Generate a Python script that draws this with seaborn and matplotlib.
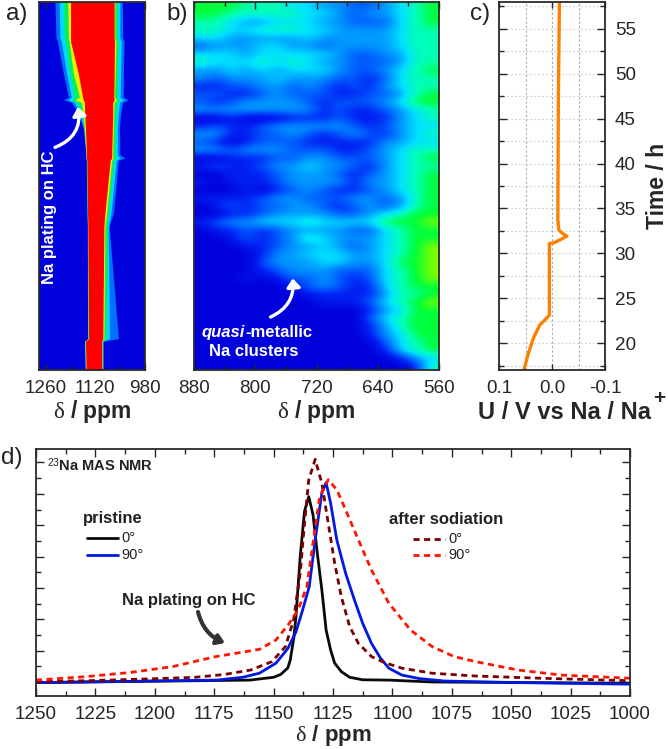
import numpy as np
import matplotlib
matplotlib.use("Agg")
import matplotlib.pyplot as plt
from matplotlib.colors import LinearSegmentedColormap
from matplotlib.ticker import MultipleLocator, FixedLocator
import seaborn as sns

sns.set_style("ticks")
plt.rcParams['font.family'] = ['Liberation Sans', 'DejaVu Sans']
plt.rcParams['mathtext.fontset'] = 'custom'
plt.rcParams['mathtext.rm'] = 'Liberation Sans'
plt.rcParams['mathtext.bf'] = 'Liberation Sans:bold'
plt.rcParams['mathtext.it'] = 'Liberation Serif'

W, H = 668, 749

# panel a: band edges (ppm) against time (h)
a_time = [58, 54, 53.6, 50, 47.4, 47.1, 46.8, 45.5, 44, 41, 40.6, 40.4, 34.5, 33, 20.5, 20.2, 17]
a_outer_l = [1234, 1231, 1227, 1210, 1196, 1210, 1187, 1168, 1154, 1147, 1146, 1146, 1144, 1143, 1142, 1151, 1149]
a_cyan_l = [1222, 1220, 1216, 1201, 1188, 1198, 1179, 1163, 1153, 1146, 1146, 1145, 1143, 1142, 1141, 1150, 1148]
a_green_l = [1210, 1208, 1205, 1192, 1180, 1187, 1171, 1159, 1152, 1146, 1146, 1145, 1143, 1142, 1141, 1150, 1148]
a_yellow_l = [1198, 1196, 1194, 1182, 1165, 1178, 1159, 1154, 1151, 1146, 1146, 1144, 1142, 1141, 1140, 1149, 1147]
a_red_l = [1190, 1190, 1190, 1168, 1156, 1154, 1151, 1150, 1148, 1145, 1145, 1144, 1142, 1141, 1139, 1148, 1146]
a_red_r = [1067, 1067, 1066, 1067, 1068, 1067, 1071, 1071, 1072, 1074, 1074, 1078, 1093, 1096, 1099, 1102, 1102]
a_yellow_r = [1065, 1065, 1062, 1064, 1066, 1060, 1067, 1068, 1069, 1071, 1070, 1074, 1088, 1093, 1096, 1101, 1101]
a_green_r = [1058, 1058, 1055, 1057, 1059, 1054, 1060, 1061, 1063, 1065, 1063, 1067, 1083, 1086, 1090, 1100, 1100]
a_cyan_r = [1051, 1051, 1047, 1049, 1050, 1040, 1052, 1055, 1058, 1058, 1050, 1061, 1076, 1084, 1080, 1099, 1099]
a_outer_r = [1044, 1043, 1039, 1041, 1041, 1027, 1043, 1049, 1052, 1051, 1036, 1055, 1069, 1081, 1055, 1098, 1098]

# panel b: intensity levels (0-9), rows from 58 h down to 17 h, columns from 880 to 560 ppm
b_rows = [
    "6665554433223456", "6655555443233456", "5543344433222456", "5544555443333455",
    "4433333433333455", "2333443323333455", "4443444443223355", "5444545433222355",
    "3343434443223456", "3233343332212455", "1122332321213455", "2211232221122356",
    "2123333212223466", "3333333312112345", "0010001112111345", "1211233333212344",
    "3311223212321345", "2101222111113344", "3323332221123455", "0011122332223456",
    "1211233433213455", "0011123332123456", "1011123333133456", "0001012321123456",
    "1111233222332356", "0121223321232356", "0011233332234566", "1233444544446667",
    "0112123333224566", "0012123543334566", "0001123343234567", "0000133444334567",
    "0000233344334667", "0000123332224567", "0001012232124567", "0000001232114566",
    "0000000111113556", "0000000011124567", "0000000000013466", "0000000000024566",
    "0000000000013566", "0000000000013466", "0000000000002456", "0000000000001456",
    "0000000000000134", "0000000000000015",
]
b_matrix = [[int(c) for c in r] for r in b_rows]

# panel c: cell voltage against time
c_time = [17, 18.8, 20.7, 22, 23.1, 31.1, 31.15, 31.5, 31.9, 32.3, 32.6, 33.7, 47, 57.9]
c_volt = [0.053, 0.045, 0.034, 0.023, 0.005, 0.005, -0.003, -0.015, -0.028, -0.018, -0.013, -0.011, -0.012, -0.014]

# panel d: spectra
d_black_x = [1250, 1160, 1150, 1147, 1144, 1143, 1141.5, 1140.6, 1138.8, 1137, 1135.2, 1133.4, 1131.6, 1129.7, 1127.9, 1126, 1124.3, 1121.5, 1118, 1112.5, 1101.5, 1083.3, 1000]
d_black_y = [-0.02, 0.06, 0.15, 0.24, 0.45, 0.7, 1.4, 2.09, 4.0, 5.44, 5.91, 5.33, 4.1, 2.94, 1.66, 1.02, 0.6, 0.33, 0.15, 0.07, 0.06, 0.0, -0.04]
d_blue_x = [1250, 1174, 1163, 1156, 1149, 1144, 1140.6, 1138, 1135, 1132.5, 1129.7, 1127.9, 1126, 1123.4, 1119.7, 1116, 1112.5, 1108.8, 1105, 1101.5, 1096, 1088.8, 1078, 1047, 1000]
d_blue_y = [-0.02, 0.06, 0.15, 0.28, 0.6, 1.07, 1.6, 2.24, 3.04, 4.53, 6.02, 6.36, 5.7, 4.53, 3.47, 2.62, 1.87, 1.23, 0.76, 0.44, 0.22, 0.11, 0.03, -0.02, -0.07]
d_dark_x = [1250, 1229, 1201.6, 1183, 1170.7, 1159.7, 1150.7, 1145, 1141.6, 1138.8, 1137, 1135.2, 1132.5, 1129.7, 1127, 1124.3, 1121.5, 1118, 1114.3, 1108.8, 1103.4, 1096, 1083.3, 1065, 1037.8, 1000]
d_dark_y = [0.01, 0.04, 0.1, 0.15, 0.24, 0.38, 0.65, 1.13, 1.98, 3.47, 5.06, 6.45, 7.1, 6.34, 5.06, 3.79, 2.72, 1.77, 1.23, 0.81, 0.62, 0.44, 0.28, 0.19, 0.12, 0.04]
d_red_x = [1250, 1229, 1210.7, 1192.5, 1174.3, 1156, 1149, 1143.4, 1139.7, 1136, 1133.4, 1130.6, 1127, 1123.4, 1119.7, 1114.3, 1108.8, 1101.5, 1092.4, 1083.3, 1074, 1065, 1047, 1028.8, 1000]
d_red_y = [0.06, 0.17, 0.3, 0.49, 0.81, 1.04, 1.34, 1.87, 2.3, 3.04, 4.43, 5.91, 6.45, 6.13, 5.49, 4.53, 3.57, 2.51, 1.66, 1.13, 0.81, 0.65, 0.38, 0.22, 0.12]

BLUE = "#0000dc"
jet = LinearSegmentedColormap.from_list("nmr", [
    (0, 0, 0.86), (0, 0.12, 0.95), (0, 0.36, 1), (0, 0.6, 1), (0, 0.88, 1),
    (0, 1, 0.72), (0, 1, 0.22), (0.5, 1, 0), (1, 1, 0), (1, 0, 0)])


def px_axes(fig, l, t, r, b):
    return fig.add_axes([l / W, 1 - b / H, (r - l) / W, (b - t) / H])


def frame(ax, lw=1.3):
    for s in ax.spines.values():
        s.set_linewidth(lw)
        s.set_color("#2a2a2a")


def ptext(fig, x, y, s, **kw):
    fig.text(x / W, 1 - y / H, s, **kw)


fig = plt.figure(figsize=(W / 100, H / 100), dpi=100, facecolor="white")
TICK = 13.6
LAB = 16.5
DELTA = "$\\delta$ / ppm"

# ---------- a
ax = px_axes(fig, 39, 2, 145, 370)
ax.set_facecolor(BLUE)
layers = [(a_outer_l, a_outer_r, "#0070ff"), (a_cyan_l, a_cyan_r, "#00d8ff"), (a_green_l, a_green_r, "#00f060"),
          (a_yellow_l, a_yellow_r, "#e8f000"), (a_red_l, a_red_r, "#ff0000")]
for lo, hi, col in layers:
    ax.fill_betweenx(a_time, lo, hi, color=col, lw=0)
ax.set_xlim(1279, 980)
ax.set_ylim(17, 58)
ax.set_yticks([])
ax.xaxis.set_major_locator(FixedLocator([1260, 1120, 980]))
ax.xaxis.set_minor_locator(FixedLocator([1190, 1050]))
ax.tick_params(axis='x', which='major', direction='in', top=True, length=5, width=1, labelsize=TICK, pad=7)
ax.tick_params(axis='x', which='minor', direction='in', top=True, length=3, width=1)
ax.set_xlabel(DELTA, fontsize=LAB, fontweight='bold', labelpad=1)
frame(ax)
ax.text(1248, 34, "Na plating on HC", color="white", fontsize=12, fontweight='bold',
        rotation=90, ha='center', va='center')
ax.annotate("", xy=(1169, 46.3), xytext=(1234, 41.8),
            arrowprops=dict(arrowstyle="-|>,head_width=0.4,head_length=0.5", color="white", lw=2.4,
                            connectionstyle="arc3,rad=0.4", shrinkA=0, shrinkB=0))

# ---------- b
ax = px_axes(fig, 194, 2, 439, 370)
ax.imshow(np.array(b_matrix), cmap=jet, vmin=0, vmax=9, aspect='auto', interpolation='bicubic',
          extent=(880, 560, 17, 58))
ax.set_xlim(880, 560)
ax.set_ylim(17, 58)
ax.set_yticks([])
ax.xaxis.set_major_locator(FixedLocator([880, 800, 720, 640, 560]))
ax.xaxis.set_minor_locator(FixedLocator([840, 760, 680, 600]))
ax.tick_params(axis='x', which='major', direction='in', top=True, length=5, width=1, labelsize=TICK, pad=7)
ax.tick_params(axis='x', which='minor', direction='in', top=True, length=3, width=1)
ax.set_xlabel(DELTA, fontsize=LAB, fontweight='bold', labelpad=1)
frame(ax)
ax.text(813, 21.2, "quasi", color="white", fontsize=12, fontweight='bold', style='italic', ha='right', va='center')
ax.text(813, 21.2, "-metallic", color="white", fontsize=12, fontweight='bold', ha='left', va='center')
ax.text(802, 19.1, "Na clusters", color="white", fontsize=12, fontweight='bold', ha='center', va='center')
ax.annotate("", xy=(751, 27.2), xytext=(780, 22.9),
            arrowprops=dict(arrowstyle="-|>,head_width=0.4,head_length=0.5", color="white", lw=2.4,
                            connectionstyle="arc3,rad=0.35", shrinkA=0, shrinkB=0))

# ---------- c
ax = px_axes(fig, 499, 2, 605, 370)
ax.set_axisbelow(True)
sns.lineplot(x=c_volt, y=c_time, estimator=None, sort=False, color="#ff8000", lw=2.4, ax=ax)
ax.set_xlim(0.1, -0.1)
ax.set_ylim(17, 58)
ax.set_xticks([0.1, 0.0, -0.1])
ax.set_xticklabels(["0.1", "0.0", "-0.1"])
ax.xaxis.set_minor_locator(FixedLocator([0.05, -0.05]))
ax.yaxis.set_major_locator(MultipleLocator(5))
ax.yaxis.set_minor_locator(MultipleLocator(2.5))
ax.yaxis.tick_right()
ax.tick_params(axis='x', which='major', direction='in', top=True, length=4, width=1, labelsize=TICK, pad=7)
ax.tick_params(axis='x', which='minor', length=0)
ax.tick_params(axis='y', which='major', direction='in', left=True, right=True, length=6, width=1, labelsize=TICK, pad=7)
ax.tick_params(axis='y', which='minor', direction='in', left=True, right=True, length=3.5, width=1)
ax.yaxis.grid(True, which='both', color="#d0d0d0", ls=(0, (1.5, 2)), lw=0.8)
ax.xaxis.grid(True, which='both', color="#a8a8a8", ls=(0, (2, 2)), lw=0.8)
frame(ax)
ptext(fig, 657, 186, "Time / h", rotation=90, fontsize=LAB, fontweight='bold', ha='center', va='center')
ptext(fig, 478, 412, "U / V vs Na / Na", fontsize=17, fontweight='bold', ha='left', va='center')
ptext(fig, 653, 398, "+", fontsize=15, fontweight='bold', ha='left', va='center')

# ---------- d
ax = px_axes(fig, 36, 449, 630, 696)
sns.lineplot(x=d_black_x, y=d_black_y, estimator=None, sort=False, color="#0a0a0a", lw=2, ax=ax)
sns.lineplot(x=d_blue_x, y=d_blue_y, estimator=None, sort=False, color="#0018e0", lw=2, ax=ax)
sns.lineplot(x=d_dark_x, y=d_dark_y, estimator=None, sort=False, color="#7a0000", lw=2, ls=(0, (2.2, 1.6)), ax=ax)
sns.lineplot(x=d_red_x, y=d_red_y, estimator=None, sort=False, color="#ff1500", lw=2, ls=(0, (2.2, 1.6)), ax=ax)
ax.set_xlim(1250, 1000)
ax.set_ylim(-0.447, 7.43)
ax.xaxis.set_major_locator(MultipleLocator(25))
ax.xaxis.set_minor_locator(MultipleLocator(12.5))
ax.yaxis.set_major_locator(MultipleLocator(1))
ax.yaxis.set_minor_locator(MultipleLocator(0.5))
ax.set_yticklabels([])
ax.tick_params(axis='x', which='major', direction='in', top=True, length=6, width=1, labelsize=TICK, pad=7)
ax.tick_params(axis='x', which='minor', direction='in', top=True, length=3.5, width=1)
ax.tick_params(axis='y', which='major', direction='in', left=True, right=True, length=6, width=1)
ax.tick_params(axis='y', which='minor', direction='in', left=True, right=True, length=3.5, width=1)
ax.set_xlabel(DELTA, fontsize=16, fontweight='bold', labelpad=0)
frame(ax)

INK = "#222222"
ptext(fig, 47, 465, "$^{23}$Na MAS NMR", fontsize=10.5, fontweight='bold', ha='left', va='center', color=INK)
ptext(fig, 83, 519, "pristine", fontsize=12, fontweight='bold', ha='left', va='center', color=INK)
ptext(fig, 389, 519, "after sodiation", fontsize=12, fontweight='bold', ha='left', va='center', color=INK)
ptext(fig, 121, 538, "0°", fontsize=10.5, ha='left', va='center', color=INK)
ptext(fig, 121, 555, "90°", fontsize=10.5, ha='left', va='center', color=INK)
ptext(fig, 448, 539, "0°", fontsize=10.5, ha='left', va='center', color=INK)
ptext(fig, 448, 555, "90°", fontsize=10.5, ha='left', va='center', color=INK)
ptext(fig, 122, 600, "Na plating on HC", fontsize=12, fontweight='bold', ha='left', va='center', color=INK)
legend_axes = fig.add_axes([0, 0, 1, 1], facecolor='none')
legend_axes.set_axis_off()
legend_axes.set_xlim(0, W)
legend_axes.set_ylim(H, 0)
legend_axes.plot([87, 118], [538, 538], color="#0a0a0a", lw=2)
legend_axes.plot([87, 118], [555, 555], color="#0018e0", lw=2)
legend_axes.plot([413, 445], [539, 539], color="#7a0000", lw=2, ls=(0, (2.2, 1.6)))
legend_axes.plot([413, 445], [555, 555], color="#ff1500", lw=2, ls=(0, (2.2, 1.6)))
legend_axes.annotate("", xy=(225, 643), xytext=(198, 612),
                     arrowprops=dict(arrowstyle="-|>,head_width=0.3,head_length=0.45", color="#333333", lw=3,
                                     connectionstyle="arc3,rad=0.25", shrinkA=0, shrinkB=0))

for x, y, s in [(6, 14, "a)"), (166, 14, "b)"), (470, 14, "c)"), (1, 458, "d)")]:
    ptext(fig, x, y, s, fontsize=17.5, ha='left', va='center', color=INK)

fig.savefig("out.png", dpi=100, facecolor="white")
